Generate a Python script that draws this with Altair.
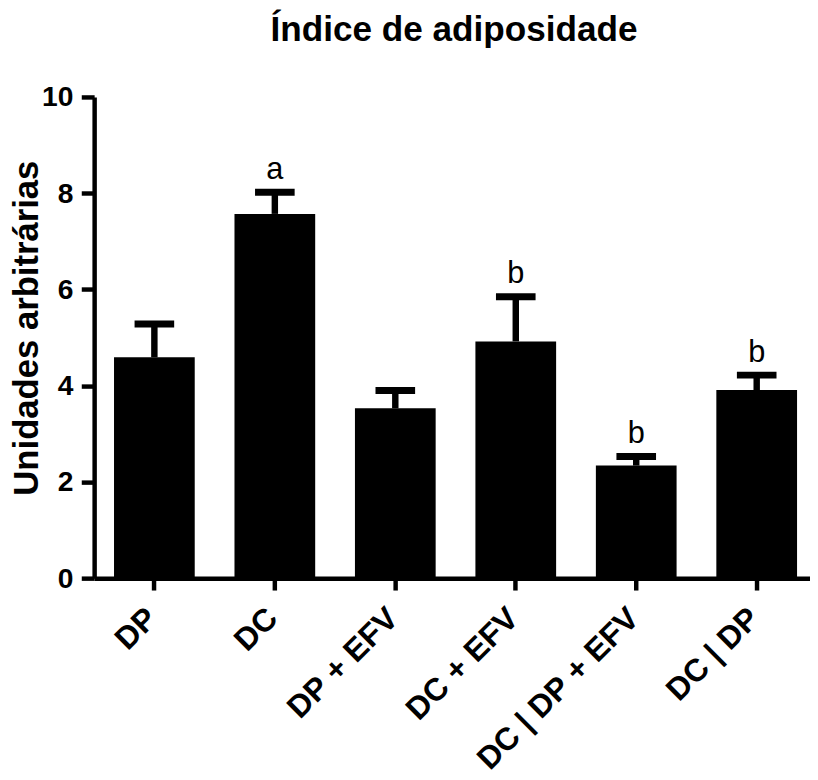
import altair as alt
import pandas as pd

categories = ["DP", "DC", "DP + EFV", "DC + EFV", "DC | DP + EFV", "DC | DP"]
means = [4.59, 7.57, 3.53, 4.92, 2.34, 3.91]
errors = [0.69, 0.45, 0.37, 0.93, 0.19, 0.31]
letters = ["", "a", "", "b", "b", "b"]
y_ticks = [0, 2, 4, 6, 8, 10]

df = pd.DataFrame({"grupo": categories, "media": means, "erro": errors, "letra": letters})
df["sup"] = df["media"] + df["erro"]

FONT = "Liberation Sans"

x_enc = alt.X(
    "grupo:N",
    sort=categories,
    scale=alt.Scale(range=[0, 730], paddingInner=0.33, paddingOuter=0.165),
    axis=alt.Axis(
        title=None,
        labelAngle=315,
        labelAlign="right",
        labelBaseline="middle",
        labelFont=FONT,
        labelFontSize=32,
        labelFontWeight="bold",
        labelColor="black",
        labelPadding=23,
        labelOffset=-2.5,
        labelLimit=500,
        tickSize=12,
        tickWidth=4.5,
        tickColor="black",
        domainWidth=4.5,
        domainColor="black",
    ),
)

y_enc = alt.Y(
    "media:Q",
    scale=alt.Scale(domain=[0, 10], nice=False, zero=True),
    axis=alt.Axis(
        values=y_ticks,
        format="d",
        title="Unidades arbitrárias",
        titleFont=FONT,
        titleFontSize=35,
        titleFontWeight="bold",
        titleColor="black",
        titleAngle=270,
        titleX=-57,
        titleY=233,
        titleAlign="center",
        titleBaseline="alphabetic",
        labelFont=FONT,
        labelFontSize=28.5,
        labelFontWeight="bold",
        labelColor="black",
        labelPadding=8.5,
        labelFlush=False,
        tickSize=13,
        tickWidth=4.5,
        tickColor="black",
        domainWidth=4.5,
        domainColor="black",
        grid=False,
    ),
)

base = alt.Chart(df)

bars = base.mark_bar(color="black", opacity=1).encode(x=x_enc, y=y_enc)

stems = base.mark_rule(color="black", strokeWidth=6.5, opacity=1).encode(
    x=alt.X("grupo:N", sort=categories),
    y="media:Q",
    y2="sup:Q",
)

caps = base.mark_tick(color="black", size=40, thickness=7, opacity=1).encode(
    x=alt.X("grupo:N", sort=categories),
    y="sup:Q",
)

labels = base.mark_text(
    font=FONT, fontSize=31, baseline="alphabetic", dy=-13.5, color="black"
).encode(
    x=alt.X("grupo:N", sort=categories),
    y="sup:Q",
    text="letra:N",
)

chart = (
    alt.layer(bars, stems, caps, labels)
    .properties(
        width=723,
        height=486,
        autosize=alt.AutoSizeParams(type="none"),
        padding={"left": 87, "top": 86, "right": 0, "bottom": 200},
        title=alt.TitleParams(
            "Índice de adiposidade",
            font=FONT,
            fontSize=35.5,
            fontWeight="bold",
            color="black",
            anchor="middle",
            frame="group",
            offset=7,
            baseline="alphabetic",
            dx=2,
        ),
    )
    .configure_view(stroke=None)
)

chart.save("out.html", embed_options={"renderer": "svg", "actions": False})
